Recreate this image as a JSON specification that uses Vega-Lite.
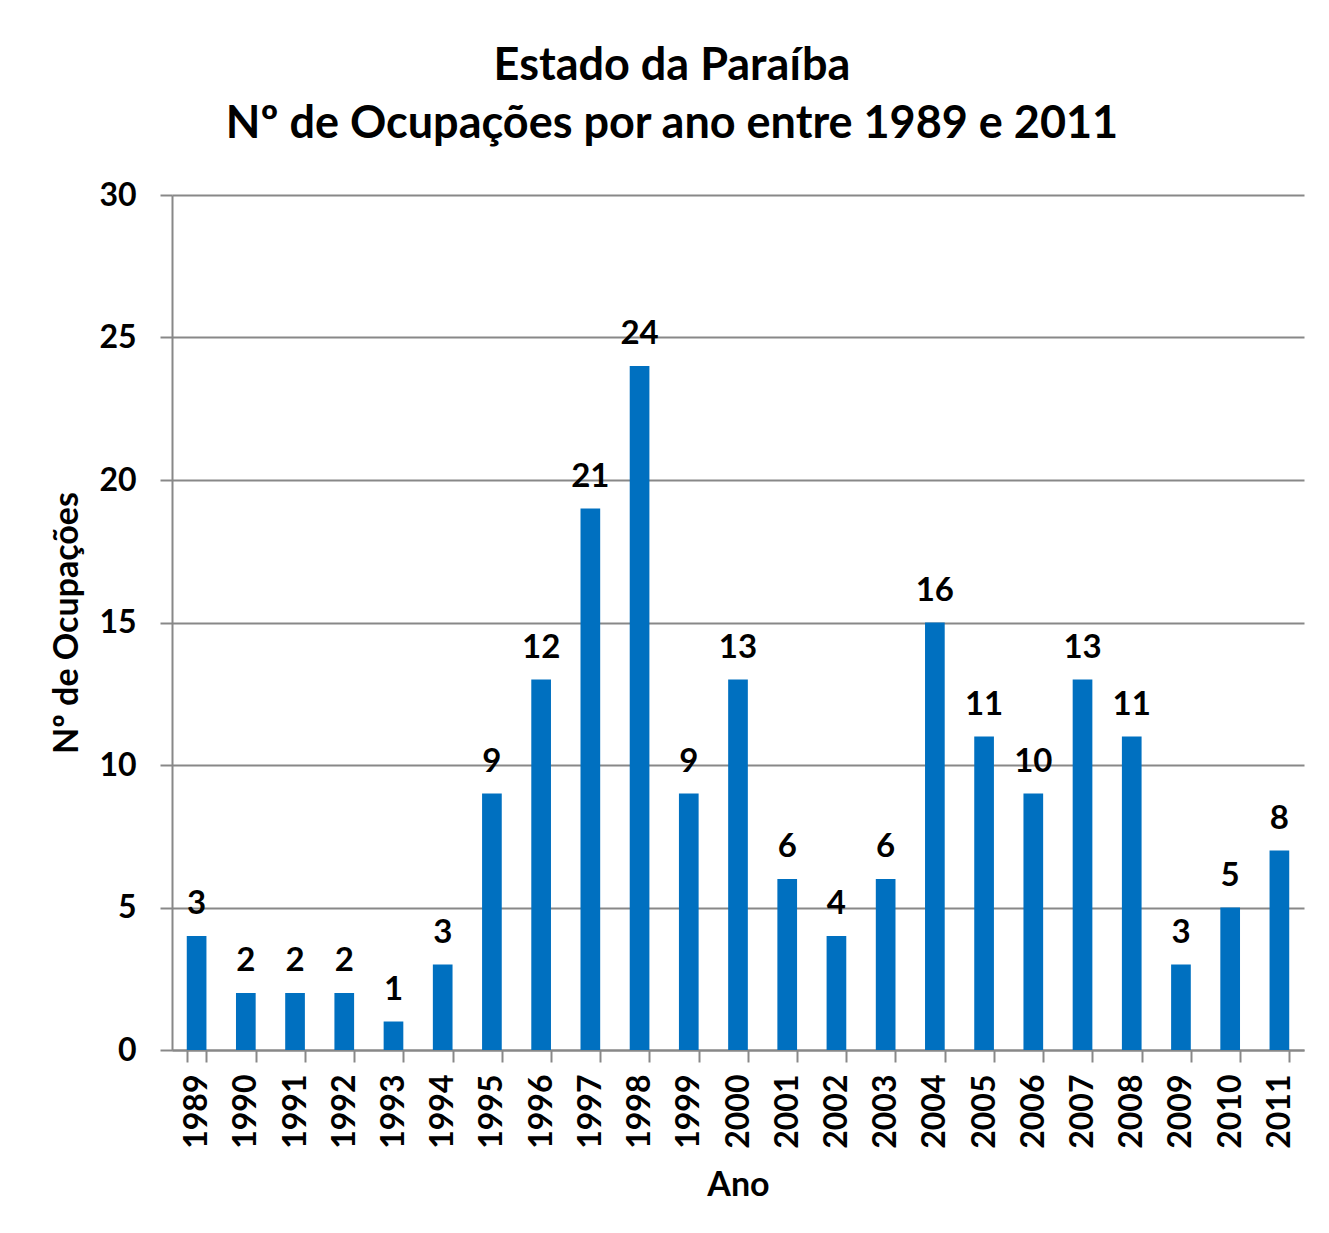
{
  "$schema": "https://vega.github.io/schema/vega-lite/v6.json",
  "width": 1132,
  "height": 855,
  "autosize": {"type": "none"},
  "padding": {"left": 172, "top": 195, "right": 25, "bottom": 183},
  "background": "white",
  "title": {
    "text": ["Estado da Paraíba", "Nº de Ocupações por ano entre 1989 e 2011"],
    "font": "Lato",
    "fontSize": 45,
    "fontWeight": "bold",
    "color": "#000000",
    "anchor": "middle",
    "dx": -66,
    "offset": 32,
    "lineHeight": 58
  },
  "data": {
    "values": [
      {"ano": "1989", "valor": 4, "rotulo": 3},
      {"ano": "1990", "valor": 2, "rotulo": 2},
      {"ano": "1991", "valor": 2, "rotulo": 2},
      {"ano": "1992", "valor": 2, "rotulo": 2},
      {"ano": "1993", "valor": 1, "rotulo": 1},
      {"ano": "1994", "valor": 3, "rotulo": 3},
      {"ano": "1995", "valor": 9, "rotulo": 9},
      {"ano": "1996", "valor": 13, "rotulo": 12},
      {"ano": "1997", "valor": 19, "rotulo": 21},
      {"ano": "1998", "valor": 24, "rotulo": 24},
      {"ano": "1999", "valor": 9, "rotulo": 9},
      {"ano": "2000", "valor": 13, "rotulo": 13},
      {"ano": "2001", "valor": 6, "rotulo": 6},
      {"ano": "2002", "valor": 4, "rotulo": 4},
      {"ano": "2003", "valor": 6, "rotulo": 6},
      {"ano": "2004", "valor": 15, "rotulo": 16},
      {"ano": "2005", "valor": 11, "rotulo": 11},
      {"ano": "2006", "valor": 9, "rotulo": 10},
      {"ano": "2007", "valor": 13, "rotulo": 13},
      {"ano": "2008", "valor": 11, "rotulo": 11},
      {"ano": "2009", "valor": 3, "rotulo": 3},
      {"ano": "2010", "valor": 5, "rotulo": 5},
      {"ano": "2011", "valor": 7, "rotulo": 8}
    ]
  },
  "encoding": {
    "x": {
      "field": "ano",
      "type": "ordinal",
      "scale": {"paddingInner": 0.6, "paddingOuter": 0.3},
      "axis": {
        "title": "Ano",
        "labelAngle": -90,
        "labelAlign": "right",
        "labelBaseline": "middle",
        "labelPadding": 12,
        "tickBand": "extent",
        "tickSize": 12,
        "titlePadding": 20
      }
    },
    "y": {
      "field": "valor",
      "type": "quantitative",
      "scale": {"domain": [0, 30]},
      "axis": {
        "title": "Nº de Ocupações",
        "values": [0, 5, 10, 15, 20, 25, 30],
        "tickSize": 12,
        "labelPadding": 24,
        "titlePadding": 14,
        "grid": true
      }
    }
  },
  "layer": [
    {"mark": {"type": "bar", "color": "#0070C0"}},
    {
      "mark": {"type": "text", "baseline": "alphabetic", "dy": -22, "font": "Lato", "fontSize": 33, "fontWeight": "bold", "color": "#000000"},
      "encoding": {"text": {"field": "rotulo", "type": "quantitative"}}
    }
  ],
  "config": {
    "view": {"stroke": null},
    "axis": {
      "labelFont": "Lato",
      "labelFontSize": 32,
      "labelFontWeight": "bold",
      "labelColor": "#000000",
      "titleFont": "Lato",
      "titleFontSize": 34,
      "titleFontWeight": "bold",
      "titleColor": "#000000",
      "domainColor": "#888888",
      "domainWidth": 2,
      "tickColor": "#888888",
      "tickWidth": 2,
      "gridColor": "#888888",
      "gridWidth": 2
    }
  }
}
